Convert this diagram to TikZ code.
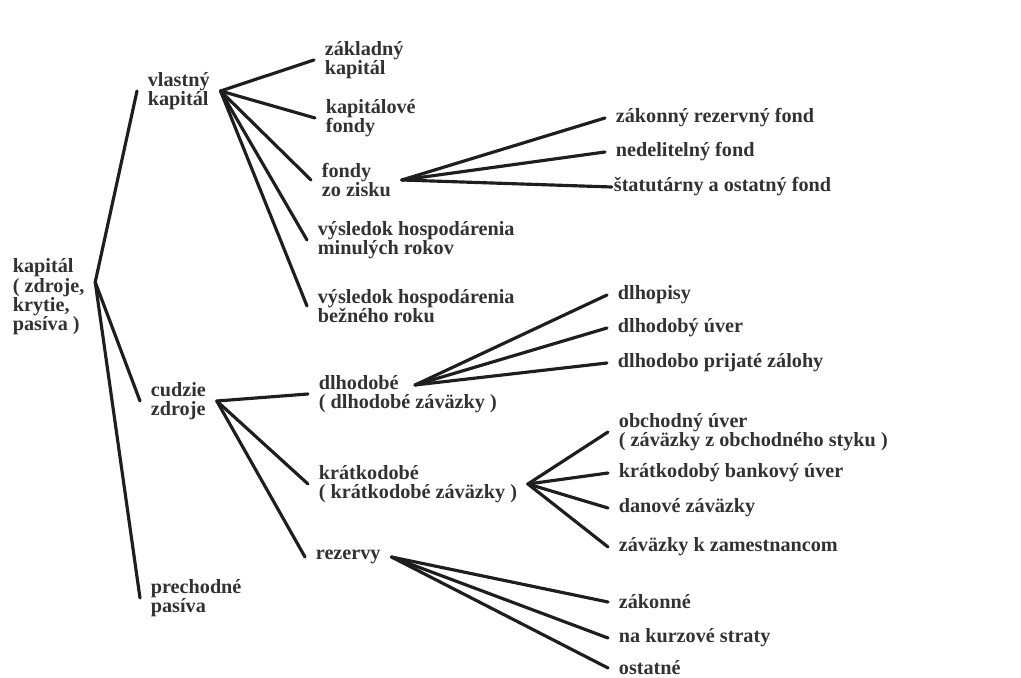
\documentclass[tikz,border=0pt]{standalone}
\usepackage{fontspec}
\setmainfont{Liberation Serif}
\usepackage{xcolor}
\definecolor{inkgray}{RGB}{50,50,50}
\definecolor{linegray}{RGB}{30,30,30}
\newcommand{\lblfont}{\fontsize{11.5}{11}\selectfont\bfseries\setlength{\lineskiplimit}{-20pt}}

\begin{document}
\begin{tikzpicture}[x=0.02cm, y=-0.02cm,
    lbl/.style={anchor=west, align=left, inner xsep=6pt, inner ysep=1pt,
                text=inkgray, font=\lblfont},
    twig/.style={draw=linegray, line width=1.8pt, line cap=round}]
      \useasboundingbox (0,0) rectangle (1021,678);

      % first level
      \node[lbl] (kap) at (2,297) {kapitál\\( zdroje,\\krytie,\\pasíva )};
      \node[lbl] (vk) at (137,91) {vlastný\\kapitál};
      \node[lbl] (cz) at (140,401) {cudzie\\zdroje};
      \node[lbl] (pp) at (140,598) {prechodné\\pasíva};

      % vlastny kapital
      \node[lbl] (zk) at (314,60) {základný\\kapitál};
      \node[lbl] (kf) at (315,118) {kapitálové\\fondy};
      \node[lbl] (fz) at (311,180) {fondy\\zo zisku};
      \node[lbl] (vm) at (307,240) {výsledok hospodárenia\\minulých rokov};
      \node[lbl] (vb) at (307,306) {výsledok hospodárenia\\bežného roku};

      \node[lbl] (zrf) at (605,118) {zákonný rezervný fond};
      \node[lbl] (nf) at (605,152) {nedelitelný fond};
      \node[lbl] (sf) at (603,187) {štatutárny a ostatný fond};

      % cudzie zdroje
      \node[lbl] (dl) at (308,394) {dlhodobé\\( dlhodobé záväzky )};
      \node[lbl] (kr) at (308,484) {krátkodobé\\( krátkodobé záväzky )};
      \node[lbl] (rz) at (305,557) {rezervy};
      \coordinate (dlj) at (415,385);

      \node[lbl] (dp) at (607,295) {dlhopisy};
      \node[lbl] (du) at (607,328) {dlhodobý úver};
      \node[lbl] (dz) at (607,363) {dlhodobo prijaté zálohy};

      \node[lbl] (ou) at (608,432) {obchodný úver\\( záväzky z obchodného styku )};
      \node[lbl] (kb) at (608,473) {krátkodobý bankový úver};
      \node[lbl] (dzv) at (608,508) {danové záväzky};
      \node[lbl] (zz) at (608,547) {záväzky k zamestnancom};

      \node[lbl] (zo) at (608,602) {zákonné};
      \node[lbl] (nk) at (608,638) {na kurzové straty};
      \node[lbl] (os) at (608,668) {ostatné};

      % branches
      \draw[twig] (vk.west) -- ([yshift=8.5pt]kap.east) -- (cz.west);
      \draw[twig] ([yshift=8.5pt]kap.east) -- (pp.west);

      \draw[twig] (vk.east) -- (zk.west);
      \draw[twig] (vk.east) -- (kf.west);
      \draw[twig] (vk.east) -- (fz.west);
      \draw[twig] (vk.east) -- (vm.west);
      \draw[twig] (vk.east) -- (vb.west);

      \draw[twig] (fz.east) -- (zrf.west);
      \draw[twig] (fz.east) -- (nf.west);
      \draw[twig] (fz.east) -- ([xshift=5pt]sf.west);

      \draw[twig] (cz.east) -- (dl.west);
      \draw[twig] (cz.east) -- (kr.west);
      \draw[twig] (cz.east) -- (rz.west);

      \draw[twig] (dlj) -- (dp.west);
      \draw[twig] (dlj) -- (du.west);
      \draw[twig] (dlj) -- (dz.west);

      \draw[twig] (kr.east) -- (ou.west);
      \draw[twig] (kr.east) -- (kb.west);
      \draw[twig] (kr.east) -- (dzv.west);
      \draw[twig] (kr.east) -- (zz.west);

      \draw[twig] (rz.east) -- (zo.west);
      \draw[twig] (rz.east) -- (nk.west);
      \draw[twig] (rz.east) -- (os.west);

\end{tikzpicture}
\end{document}
